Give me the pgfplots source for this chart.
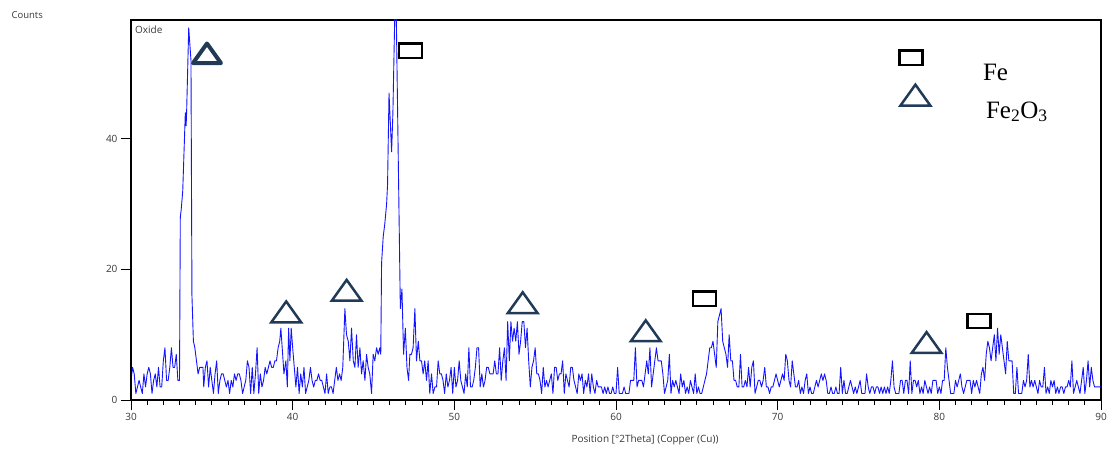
\documentclass[border=0pt]{standalone}
\usepackage{fontspec}
\setmainfont{Open Sans}
\newfontfamily\timesfont{Liberation Serif}
\usepackage{pgfplots}
\pgfplotsset{compat=1.18}
\definecolor{xrdblue}{RGB}{20,20,255}
\definecolor{navy}{HTML}{213A57}
\definecolor{labgray}{HTML}{383838}
\pgfdeclareplotmark{tri}{%
  \pgfpathmoveto{\pgfqpoint{0pt}{0.7\pgfplotmarksize}}%
  \pgfpathlineto{\pgfqpoint{\pgfplotmarksize}{-0.7\pgfplotmarksize}}%
  \pgfpathlineto{\pgfqpoint{-\pgfplotmarksize}{-0.7\pgfplotmarksize}}%
  \pgfpathclose\pgfusepathqstroke}
\pgfdeclareplotmark{rectm}{%
  \pgfpathrectanglecorners{\pgfqpoint{-1.6\pgfplotmarksize}{-\pgfplotmarksize}}{\pgfqpoint{1.6\pgfplotmarksize}{\pgfplotmarksize}}%
  \pgfusepathqstroke}
\begin{document}
\begin{tikzpicture}
\begin{axis}[
  scale only axis, width=970pt, height=380pt,
  xmin=30, xmax=90, ymin=0, ymax=58.2,
  xtick={30,40,...,90}, minor x tick num=9,
  ytick={0,20,40},
  tick align=outside,
  major tick length=10pt, minor tick length=5pt,
  tick style={black, line width=0.9pt},
  xtick pos=bottom, ytick pos=left,
  axis line style={line width=1.5pt},
  /pgf/number format/assume math mode=true,
  tick label style={font=\fontsize{10}{12}\selectfont, text=labgray},
  xlabel={Position [°2Theta] (Copper (Cu))},
  ylabel={Counts},
  every axis x label/.style={at={(rel axis cs:0.5299,0)}, anchor=base, yshift=-42pt, font=\fontsize{10}{12}\selectfont, text=labgray},
  every axis y label/.style={at={(rel axis cs:-0.1268,1)}, anchor=base west, yshift=1.7pt, font=\fontsize{9.5}{12}\selectfont, text=labgray},
]
\addplot[xrdblue, line width=0.9pt, line join=round, mark=none] coordinates {
(30.0,3)(30.1,5)(30.2,4)(30.3,1)(30.4,2)(30.5,3)(30.6,2)(30.7,1)(30.8,4)(30.9,2)
(31.0,4)(31.1,5)(31.2,4)(31.3,1)(31.4,3)(31.5,4)(31.6,2)(31.7,5)(31.8,2)(31.9,2)
(32.0,6)(32.1,8)(32.2,3)(32.3,3)(32.4,5)(32.5,8)(32.6,5)(32.7,5)(32.8,7)(32.9,3)
(33.0,3)(33.05,28)(33.1,29)(33.2,32)(33.36,44)(33.41,42)(33.44,44)(33.57,57)(33.71,52)(33.77,16)(33.86,9)(33.95,8)
(34.05,6)(34.15,4)(34.25,5)(34.35,5)(34.45,5)(34.5,2)(34.6,5)(34.7,6)(34.8,2)(34.9,5)
(35.0,3)(35.1,1)(35.2,4)(35.3,6)(35.4,1)(35.5,3)(35.6,4)(35.7,4)(35.8,3)(35.9,2)
(36.0,3)(36.1,1)(36.2,3)(36.3,2)(36.4,4)(36.5,3)(36.6,4)(36.7,4)(36.8,3)(36.9,1)
(37.0,2)(37.1,3)(37.2,6)(37.3,5)(37.4,1)(37.5,5)(37.6,1)(37.7,4)(37.8,8)(37.9,1)
(38.0,4)(38.1,2)(38.2,3)(38.3,5)(38.4,4)(38.5,5)(38.6,6)(38.7,5)(38.8,5)(38.9,6)
(39.0,6)(39.1,8)(39.2,9)(39.27,11)(39.38,7)(39.46,4)(39.58,6)(39.67,2)(39.75,11)(39.83,6)(39.91,11)
(40.0,8)(40.1,5)(40.2,2)(40.3,5)(40.4,1)(40.5,4)(40.6,2)(40.7,5)(40.8,1)(40.9,2)
(41.0,3)(41.1,5)(41.2,3)(41.3,2)(41.4,3)(41.5,3)(41.6,4)(41.7,3)(41.8,3)(41.9,2)
(42.0,1)(42.1,4)(42.2,1)(42.3,2)(42.4,2)(42.5,1)(42.6,3)(42.7,5)(42.8,3)(42.9,4)
(43.0,3)(43.1,5)(43.23,14)(43.33,10)(43.44,9)(43.54,6)(43.64,11)(43.75,6)(43.85,5)(43.95,10)
(44.05,5)(44.16,8)(44.26,4)(44.36,6)(44.47,3)(44.57,7)(44.67,5)(44.77,4)(44.88,1)(44.98,7)
(45.08,6)(45.19,8)(45.29,7)(45.39,8)(45.45,7)
(45.5,21)(45.6,25)(45.7,27)(45.81,30)(45.87,33)(45.96,47)(46.12,38)(46.2,44)(46.37,66)(46.66,14)(46.76,17)(46.86,7)(46.97,11)(47.07,5)(47.17,3)(47.25,7)(47.35,7)(47.45,8)(47.56,14)(47.66,6)
(47.77,9)(47.87,6)(47.97,6)(48.07,4)(48.17,6)(48.28,3)(48.38,6)(48.48,1)(48.59,4)(48.69,1)(48.8,2)(48.9,2)
(49.0,6)(49.1,4)(49.2,4)(49.3,3)(49.4,1)(49.5,4)(49.6,2)(49.7,3)(49.8,5)(49.9,1)
(50.0,5)(50.1,2)(50.2,3)(50.3,6)(50.4,3)(50.5,2)(50.6,1)(50.7,4)(50.8,2)(50.9,8)
(51.0,2)(51.1,2)(51.2,3)(51.3,5)(51.4,8)(51.5,8)(51.6,2)(51.7,4)(51.8,2)(51.9,3)
(52.0,5)(52.1,5)(52.2,4)(52.3,4)(52.4,4)
(52.5,6)(52.6,4)(52.7,4)(52.8,8)(52.9,3)(53.0,6)(53.1,8)(53.2,3)(53.3,12)(53.4,6)
(53.5,12)(53.6,9)(53.7,11)(53.8,9)(53.9,12)(54.0,7)(54.1,9)(54.2,12)(54.3,12)(54.4,8)
(54.5,11)(54.6,6)(54.7,2)(54.8,5)(54.9,6)(55.0,8)(55.1,4)(55.2,4)(55.3,3)(55.4,1)
(55.5,5)(55.6,2)(55.7,3)(55.8,2)(55.9,3)(56.0,4)(56.1,1)(56.2,5)(56.3,5)(56.4,3)
(56.5,4)(56.6,4)(56.7,6)(56.8,1)(56.9,4)(57.0,3)(57.1,2)(57.2,5)(57.3,5)(57.4,3)
(57.5,2)(57.6,1)(57.7,4)(57.8,3)(57.9,4)(58.0,1)(58.1,3)(58.2,2)(58.3,4)(58.4,1)
(58.5,4)(58.6,2)(58.7,1)(58.8,3)(58.9,2)(59.0,2)(59.1,2)(59.2,1)(59.3,2)(59.4,1)
(59.5,2)(59.6,1)(59.7,1)(59.8,2)(59.9,1)(60.0,1)(60.1,5)(60.2,1)(60.3,1)(60.4,1)
(60.5,2)(60.6,1)(60.7,1)(60.8,1)(60.9,3)(61.0,3)(61.1,3)(61.2,8)(61.3,2)(61.4,3)
(61.5,3)(61.6,3)(61.7,2)(61.8,4)(61.9,6)(62.0,4)(62.1,8)(62.2,2)(62.3,4)(62.4,6)
(62.5,8)(62.6,6)(62.7,6)(62.8,6)(62.9,4)(63.0,1)(63.1,2)(63.2,3)(63.3,7)(63.4,1)
(63.5,3)(63.6,2)(63.7,3)(63.8,2)(63.9,1)(64.0,4)(64.1,2)(64.2,3)(64.3,1)(64.4,2)
(64.5,1)(64.6,3)(64.7,2)(64.8,1)(64.9,4)(65.0,1)(65.1,2)
(65.2,1)(65.3,1)(65.4,2)(65.5,3)(65.6,4)(65.7,6)(65.8,8)(65.9,8)(66.0,9)(66.1,7)
(66.2,5)(66.3,12)(66.4,13)(66.5,14)(66.6,9)(66.7,8)(66.8,7)(66.9,5)(67.0,10)(67.1,6)
(67.2,6)(67.3,3)(67.4,3)(67.5,2)(67.6,2)(67.7,7)(67.8,2)(67.9,2)(68.0,3)(68.1,2)
(68.2,5)(68.3,2)(68.4,5)(68.5,6)(68.6,1)(68.7,2)(68.8,3)(68.9,3)(69.0,2)(69.1,3)
(69.2,5)(69.3,2)(69.4,2)(69.5,1)(69.6,2)(69.7,2)(69.8,3)(69.9,4)(70.0,3)(70.1,2)
(70.2,3)(70.3,4)(70.4,3)(70.5,7)(70.6,6)(70.7,3)(70.8,2)(70.9,6)(71.0,4)(71.1,2)
(71.2,2)(71.3,3)(71.4,1)(71.5,2)(71.6,1)(71.7,3)(71.8,4)(71.9,1)(72.0,2)(72.1,1)
(72.2,1)(72.3,2)(72.4,3)(72.5,2)(72.6,3)(72.7,4)(72.8,3)(72.9,4)(73.0,3)(73.1,1)
(73.2,1)(73.3,2)(73.4,1)(73.5,1)(73.6,2)(73.7,1)(73.8,1)(73.9,5)(74.0,1)(74.1,3)
(74.2,1)(74.3,1)(74.4,2)(74.5,3)(74.6,2)(74.7,1)(74.8,2)(74.9,1)(75.0,2)(75.1,3)
(75.2,1)(75.3,1)(75.4,1)(75.5,4)(75.6,2)(75.7,1)(75.8,2)(75.9,2)(76.0,1)(76.1,2)
(76.2,2)(76.3,1)(76.4,2)(76.5,1)(76.6,2)(76.7,1)(76.8,2)(76.9,1)(77.0,3)(77.1,6)
(77.2,2)(77.3,1)(77.4,1)(77.5,1)
(77.6,3)(77.7,3)(77.8,1)(77.9,3)(78.0,3)(78.1,1)(78.2,6)(78.3,1)(78.4,3)(78.5,3)
(78.6,2)(78.7,3)(78.8,1)(78.9,2)(79.0,1)(79.1,3)(79.2,2)(79.3,1)(79.4,2)(79.5,1)
(79.6,3)(79.7,3)(79.8,3)(79.9,1)(80.0,2)(80.1,1)(80.2,3)(80.3,3)(80.4,8)(80.5,5)
(80.6,3)(80.7,1)(80.8,1)(80.9,1)(81.0,3)(81.1,2)(81.2,3)(81.3,4)(81.4,2)(81.5,1)
(81.6,2)(81.7,3)(81.8,3)(81.9,3)(82.0,1)(82.1,3)(82.2,2)(82.3,3)(82.4,2)(82.5,1)
(82.6,4)(82.7,5)(82.8,3)(82.9,7)(83.0,9)(83.1,8)(83.2,6)(83.3,8)(83.4,10)(83.5,6)
(83.6,11)(83.7,7)(83.8,10)(83.9,8)(84.0,6)(84.1,4)(84.2,9)(84.3,6)(84.4,6)(84.5,6)
(84.6,1)(84.7,1)(84.8,5)(84.9,1)(85.0,1)(85.1,1)(85.2,3)(85.3,2)(85.4,3)(85.5,7)
(85.6,2)(85.7,3)(85.8,2)(85.9,3)(86.0,2)(86.1,1)(86.2,3)(86.3,2)(86.4,2)(86.5,5)
(86.6,1)(86.7,2)(86.8,1)(86.9,3)(87.0,2)(87.1,3)(87.2,1)(87.3,2)(87.4,1)(87.5,2)
(87.6,2)(87.7,1)(87.8,2)(87.9,2)(88.0,3)(88.1,2)(88.2,6)(88.3,1)(88.4,2)(88.5,3)
(88.6,2)(88.7,1)(88.8,3)(88.9,5)(89.0,1)(89.1,3)(89.2,6)(89.3,2)(89.4,5)(89.5,3)
(89.6,2)(89.7,2)(89.8,2)(89.9,2)(90.0,2)
};
\addplot[only marks, mark=tri, mark size=14pt, line width=4pt, line join=round, navy, mark options={draw=navy, line width=4pt, line join=round}] coordinates {(34.70,53.1)};
\addplot[only marks, mark=tri, mark size=14.9pt, line width=2.5pt, navy, mark options={draw=navy, line width=2.5pt}] coordinates {(39.6,13.5)(43.34,16.8)(54.23,14.9)(61.84,10.6)(79.21,8.8)(78.52,46.7)};
\addplot[only marks, mark=rectm, mark size=7.2pt, line width=2.5pt, black, mark options={draw=black, line width=2.5pt}] coordinates {(47.28,53.5)(65.48,15.5)(82.44,12.1)(78.24,52.4)};
\node[anchor=base west, inner sep=0pt, font=\fontsize{10}{12}\selectfont, text=labgray] at (rel axis cs:0.0041,0.965) {Oxide};
\node[anchor=base west, inner sep=0pt, font=\timesfont\fontsize{25}{30}\selectfont] at (axis cs:82.69,48.93) {Fe};
\node[anchor=base west, inner sep=0pt, font=\timesfont\fontsize{25}{30}\selectfont] at (axis cs:82.88,43.17) {Fe\textsubscript{2}O\textsubscript{3}};
\end{axis}
\draw[black, line width=2.6pt, line cap=rect] (current axis.north west) -- (current axis.south west) -- (current axis.south east);
\pgfresetboundingbox
\path ([xshift=-131pt,yshift=-48pt]current axis.south west) rectangle ([xshift=6pt,yshift=20pt]current axis.north east);
\end{tikzpicture}
\end{document}
